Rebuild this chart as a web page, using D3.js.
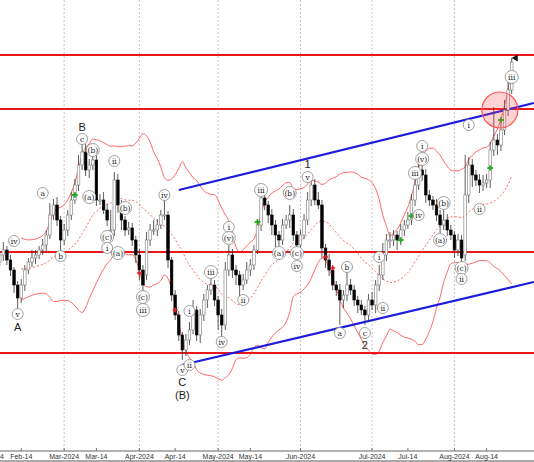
<!DOCTYPE html>
<html><head><meta charset="utf-8">
<script src="https://cdn.jsdelivr.net/npm/d3@7"></script>
<style>body{margin:0;background:#fff}svg{display:block}</style>
</head><body><div id="chart"></div>
<script>
// daily closes, Feb 1 2024 .. Aug 23 2024 (weekdays)
const closes = [2235,2242,2238,2245,2250,2240,2230,2215,2202,2215,
2230,2238,2242,2245,2250,2255,2265,2285,2295,2280,
2260,2270,2285,2300,2315,2335,2348,2330,2335,2340,
2300,2300,2290,2280,2270,2320,2295,2280,2270,2272,
2260,2245,2230,2215,2260,2270,2270,2275,2285,2285,
2240,2205,2185,2165,2150,2160,2170,2190,2165,2185,
2200,2210,2215,2200,2185,2175,2230,2245,2230,2225,
2215,2220,2230,2235,2250,2275,2302,2295,2285,2275,
2265,2260,2275,2280,2285,2265,2255,2265,2280,2300,
2315,2300,2295,2252,2240,2230,2215,2210,2200,2205,
2215,2210,2200,2195,2190,2185,2200,2195,2215,2225,
2245,2260,2260,2265,2260,2270,2275,2280,2300,2315,
2330,2325,2305,2300,2295,2285,2275,2280,2270,2265,
2250,2260,2242,2305,2335,2325,2320,2315,2317,2320,
2350,2360,2355,2370,2390,2410,2438];
const opens = [2240,2235,2242,2238,2245,2250,2240,2230,2215,2202,
2215,2230,2238,2242,2245,2250,2255,2265,2285,2295,
2280,2260,2270,2285,2300,2315,2335,2348,2330,2335,
2340,2300,2300,2290,2270,2270,2320,2295,2280,2270,
2272,2260,2245,2230,2225,2260,2270,2270,2275,2285,
2285,2240,2205,2185,2165,2150,2160,2170,2190,2165,
2185,2200,2210,2215,2200,2185,2175,2230,2245,2230,
2225,2215,2220,2230,2235,2250,2275,2302,2295,2285,
2275,2265,2260,2275,2280,2285,2265,2255,2265,2280,
2300,2315,2300,2295,2252,2240,2230,2215,2210,2200,
2205,2215,2210,2200,2195,2190,2185,2200,2195,2215,
2225,2245,2260,2260,2265,2260,2270,2275,2280,2300,
2315,2330,2325,2305,2300,2295,2285,2275,2280,2270,
2265,2250,2260,2245,2305,2335,2325,2320,2315,2317,
2320,2350,2360,2355,2370,2390,2410];
const upWick = [5,4,6,3,8,4,5,3,4,6,5,4,8,5,4,6,5,12,6,8,4,6,5,8,6,10,12,8,6,5,
5,6,8,6,20,8,6,5,4,6,5,4,6,5,8,6,10,6,5,20,4,3,5,4,3,6,8,10,4,6,
6,5,10,5,4,6,8,10,6,5,4,6,8,6,5,6,8,5,4,6,5,4,6,5,10,6,4,5,6,8,
10,6,8,5,4,6,5,4,6,5,18,6,5,4,5,4,6,8,5,10,12,6,8,5,4,6,5,8,6,8,
12,15,6,5,4,6,5,15,6,5,4,6,5,40,8,6,5,6,8,6,8,33,6,8,10,8,4];
const downWick = [4,6,5,4,6,5,6,8,12,5,6,4,5,6,4,5,6,4,5,6,12,5,6,5,4,6,5,6,8,5,
6,5,4,6,5,6,8,10,6,5,6,8,10,12,5,6,5,6,4,5,8,6,5,6,10,6,5,4,6,8,
6,8,5,6,15,12,5,6,8,10,12,5,4,6,5,4,6,5,8,10,12,6,5,4,8,6,5,6,4,5,
6,5,4,10,8,6,5,6,25,8,6,5,6,8,5,10,6,5,8,6,5,6,8,6,10,5,6,4,5,6,
5,6,8,6,5,6,8,5,6,5,8,6,5,6,8,12,6,8,6,5,8,6,10,6,5,6,4];

const levels = [2445, 2391, 2248, 2147];
const channelTop = [[53, 2310], [152.2, 2397]];
const channelBottom = [[53.9, 2135], [152.2, 2218]];
const midMonthTicks = ["Feb-14", "Mar-14", "Apr-14", "May-14", "Jul-14", "Aug-14"];
const waveLabels = [
  [7,2259,"iv",1],[8,2186,"v",1],[8,2173,"A",0],[15,2307,"a",1],[20,2244,"b",1],
  [26,2373,"B",0],[26,2361,"c",1],[29,2350,"(b)",1],[28,2303,"(a)",1],[35,2339,"ii",1],
  [33,2263,"(c)",1],[33,2252,"i",1],[38,2292,"(b)",1],[36,2247,"(a)",1],[43,2203,"(c)",1],
  [43,2190,"iii",1],[49,2305,"iv",1],[54,2130,"v",1],[54,2118,"C",0],[54,2105,"(B)",0],
  [56,2135,"ii",1],[56,2189,"i",1],[62,2228,"iii",1],[65,2158,"iv",1],[67,2273,"i",1],
  [67,2262,"(v)",1],[71,2200,"ii",1],[76,2310,"iii",1],[81,2247,"(a)",1],[84,2307,"(b)",1],
  [86,2247,"(c)",1],[86,2234,"iv",1],[89,2323,"v",1],[89,2336,"1",0],[100,2233,"b",1],
  [98,2167,"a",1],[105,2167,"c",1],[105,2155,"2",0],[110,2192,"ii",1],[109,2243,"i",1],
  [119,2327,"iii",1],[120,2285,"iv",1],[121,2354,"i",1],[121,2341,"(v)",1],[127,2297,"(b)",1],
  [126,2260,"(a)",1],[137,2291,"ii",1],[132,2232,"(c)",1],[132,2221,"ii",1],[134,2375,"i",1],
  [146,2423,"iii",1]
];
const greenMarks = [[24,2305],[75,2278],[115,2260],[118,2284],[140,2332],[143,2380]];
const redMarks = [[8,2185],[42,2227],[52,2190],[94,2243],[96,2232]];

const W = 534, H = 462, axisY = 451;
// weekday calendar
const dates = [];
for (let d = new Date(2024, 1, 1); dates.length < closes.length; d.setDate(d.getDate() + 1)) {
  if (d.getDay() !== 0 && d.getDay() !== 6) dates.push(new Date(d));
}
const x = d3.scaleLinear().domain([0, 146]).range([-11, 511.7]);
const y = d3.scaleLinear().domain([2038, 2500]).range([462, 0]);

const svg = d3.select("#chart").append("svg").attr("width", W).attr("height", H)
  .style("font-family", "Arial, 'Liberation Sans', sans-serif");
const plot = svg.append("g");

// month grid + ticks
const fmtM = d3.timeFormat("%b-%Y"), fmtD = d3.timeFormat("%b-14");
const monthStarts = [], mids = [];
dates.forEach((d, i) => {
  if (i > 0 && d.getMonth() !== dates[i - 1].getMonth()) monthStarts.push(i);
  if (d.getDate() >= 14 && (i === 0 || dates[i - 1].getDate() < 14 || dates[i - 1].getMonth() !== d.getMonth())
      && midMonthTicks.includes(fmtD(d))) mids.push(i);
});
monthStarts.unshift(0);
plot.selectAll(".grid").data(monthStarts).enter().append("line")
  .attr("x1", d => x(d)).attr("x2", d => x(d)).attr("y1", 0).attr("y2", axisY)
  .attr("stroke", "#aaa").attr("stroke-width", 0.7).attr("stroke-dasharray", "2,2");

// bollinger (20)
const bb = closes.map((c, i) => {
  if (i < 9) return null;
  const w = closes.slice(Math.max(0, i - 19), i + 1);
  const m = d3.mean(w), s = d3.deviation(w);
  return {i, m, u: m + 2 * s, l: m - 2 * s};
}).filter(d => d);
const line = k => d3.line().x(d => x(d.i)).y(d => y(d[k])).curve(d3.curveMonotoneX)(bb);
plot.append("path").attr("d", line("u")).attr("fill", "none").attr("stroke", "#f55").attr("stroke-width", 0.9);
plot.append("path").attr("d", line("l")).attr("fill", "none").attr("stroke", "#f55").attr("stroke-width", 0.9);
plot.append("path").attr("d", line("m")).attr("fill", "none").attr("stroke", "#f55").attr("stroke-width", 0.9).attr("stroke-dasharray", "2,2");

// levels
plot.selectAll(".lvl").data(levels).enter().append("line")
  .attr("x1", 0).attr("x2", W).attr("y1", d => y(d)).attr("y2", d => y(d))
  .attr("stroke", "#e81818").attr("stroke-width", 2);

// channel
[channelTop, channelBottom].forEach(c => plot.append("line")
  .attr("x1", x(c[0][0])).attr("y1", y(c[0][1])).attr("x2", x(c[1][0])).attr("y2", y(c[1][1]))
  .attr("stroke", "#1c1ce0").attr("stroke-width", 2.2));

// candles
const bars = plot.selectAll(".bar").data(closes).enter().append("g");
bars.append("line")
  .attr("x1", (d, i) => x(i)).attr("x2", (d, i) => x(i))
  .attr("y1", (d, i) => y(Math.max(d, opens[i]) + upWick[i]))
  .attr("y2", (d, i) => y(Math.min(d, opens[i]) - downWick[i]))
  .attr("stroke", "#333").attr("stroke-width", 0.8);
bars.append("rect")
  .attr("x", (d, i) => x(i) - 1.3).attr("width", 2.6)
  .attr("y", (d, i) => y(Math.max(d, opens[i])))
  .attr("height", (d, i) => Math.max(1, Math.abs(y(d) - y(opens[i]))))
  .attr("fill", (d, i) => d >= opens[i] ? "#fff" : "#000")
  .attr("stroke", (d, i) => d >= opens[i] ? "#777" : "#000").attr("stroke-width", 0.6);

// markers
plot.selectAll(".g").data(greenMarks).enter().append("path")
  .attr("d", d3.symbol(d3.symbolCross, 18)).attr("transform", d => `translate(${x(d[0])},${y(d[1])})`)
  .attr("fill", "#2a2");
plot.selectAll(".r").data(redMarks).enter().append("path")
  .attr("d", d3.symbol(d3.symbolCross, 14)).attr("transform", d => `translate(${x(d[0])},${y(d[1])})`)
  .attr("fill", "#d22");

// highlight circle
plot.append("circle").attr("cx", x(142.7)).attr("cy", y(2390)).attr("r", 18)
  .attr("fill", "rgba(255,80,80,0.25)").attr("stroke", "#f55").attr("stroke-width", 1.2);
// top arrow
plot.append("path").attr("d", d3.symbol(d3.symbolTriangle, 22))
  .attr("transform", `translate(${x(146) + 4},${y(2442)}) rotate(-90)`).attr("fill", "#111");

// wave labels
const lab = plot.selectAll(".lab").data(waveLabels).enter().append("g")
  .attr("transform", d => `translate(${x(d[0])},${y(d[1])})`);
lab.filter(d => d[3]).append("circle").attr("r", d => d[2].length > 2 ? 6.5 : 5.5)
  .attr("fill", "#fff").attr("stroke", "#888").attr("stroke-width", 0.8);
lab.append("text").attr("text-anchor", "middle").attr("dy", "0.35em")
  .attr("font-size", d => d[3] ? (d[2].length > 3 ? 6 : 7.5) : 11)
  .attr("font-family", d => d[3] ? "'DejaVu Serif', serif" : null)
  .attr("fill", "#222").text(d => d[2]);

// axis
svg.append("rect").attr("x", 0).attr("y", axisY).attr("width", W).attr("height", H - axisY).attr("fill", "#fff");
svg.append("line").attr("x1", 0).attr("x2", W).attr("y1", axisY).attr("y2", axisY).attr("stroke", "#999").attr("stroke-width", 1.5);
svg.append("line").attr("x1", 0).attr("x2", W).attr("y1", H - 1).attr("y2", H - 1).attr("stroke", "#555");
const ticks = monthStarts.map(i => [i, fmtM(dates[i])]).concat(mids.map(i => [i, fmtD(dates[i])]));
const t = svg.selectAll(".tk").data(ticks).enter().append("g").attr("transform", d => `translate(${x(d[0])},${axisY})`);
t.append("line").attr("y1", -3).attr("y2", 0).attr("stroke", "#777");
t.append("text").attr("y", 8).attr("text-anchor", "middle").attr("font-size", 7).attr("fill", "#333").text(d => d[1]);
</script></body></html>
